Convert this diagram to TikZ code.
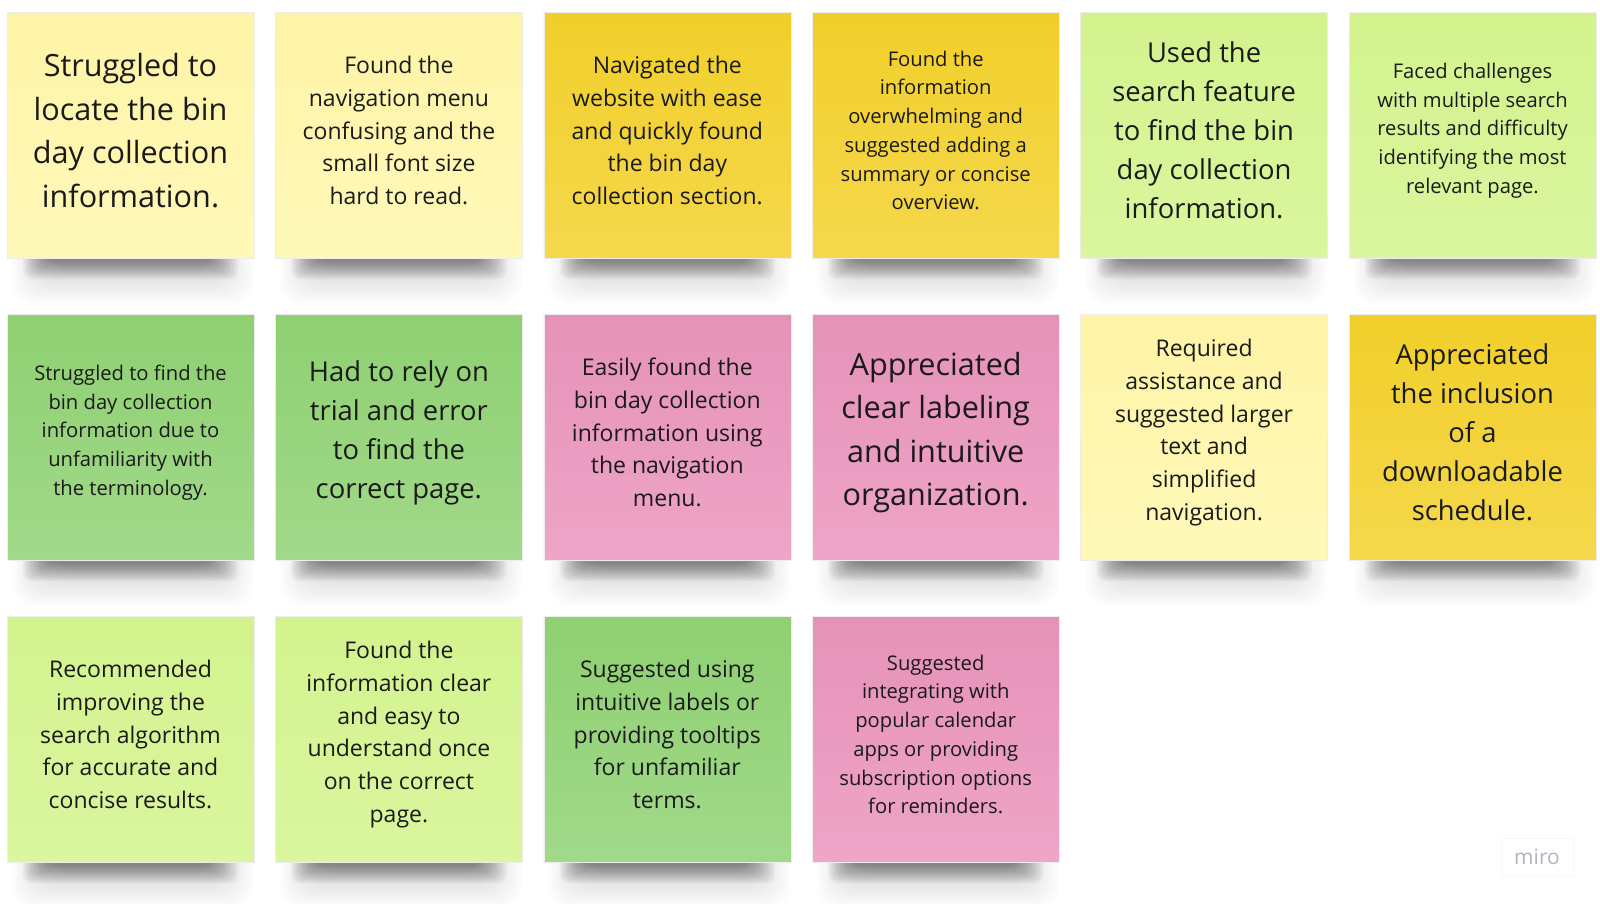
\documentclass[tikz,border=0pt]{standalone}
\usepackage{fontspec}
\setmainfont{Open Sans}
\usetikzlibrary{calc,backgrounds}

\pgfdeclarelayer{paper}
\pgfsetlayers{paper,background,main}

% sticky-note palette
\definecolor{lyTop}{HTML}{FEF4A6}\definecolor{lyBot}{HTML}{FFF9B9}
\definecolor{yeTop}{HTML}{F1CF2A}\definecolor{yeBot}{HTML}{F5D84C}
\definecolor{lgTop}{HTML}{D3F38E}\definecolor{lgBot}{HTML}{DAF69E}
\definecolor{grTop}{HTML}{8FD072}\definecolor{grBot}{HTML}{A1D98A}
\definecolor{pkTop}{HTML}{E692B8}\definecolor{pkBot}{HTML}{EEA5C7}
\definecolor{inkC}{HTML}{1A1A1A}
\definecolor{logoC}{HTML}{B2B2C2}

\tikzset{
  note/.style={draw=black!7, line width=0.6pt, minimum width=247pt,
    minimum height=246pt, inner sep=0pt},
  noteLY/.style={top color=lyTop, bottom color=lyBot},
  noteYE/.style={top color=yeTop, bottom color=yeBot},
  noteLG/.style={top color=lgTop, bottom color=lgBot},
  noteGR/.style={top color=grTop, bottom color=grBot},
  notePK/.style={top color=pkTop, bottom color=pkBot},
  notetext/.style={text=inkC, align=center, inner sep=0pt},
  fsA/.style={font=\fontsize{30.6}{43.6}\selectfont},
  fsB/.style={font=\fontsize{27.4}{39}\selectfont},
  fsC/.style={font=\fontsize{23}{32.7}\selectfont},
  fsD/.style={font=\fontsize{20.2}{28.7}\selectfont},
  halolayer/.style={fill=black, opacity=0.013, rounded corners=22pt},
  bandlayer/.style={fill=black, opacity=0.034, rounded corners=9pt},
}

% #1 name, #2 column, #3 row, #4 colour key, #5 font style, #6 text
\newcommand\stickynote[6]{%
  \node[note, note#4] (#1) at ({130.5+268.4*#2},{135+302*#3}) {};
  \node[notetext, #5] (#1t) at ([yshift=4.5pt]#1.center) {#6};
  \begin{scope}[on background layer]
    % soft wide halo
    \foreach \k in {0,...,13}{
      \path[halolayer]
        ($(#1.south west)+({5+3.2*\k},-30)$) rectangle
        ($(#1.south east)+({-1-3.2*\k},{46-3*\k})$);
    }
    % darker band right under the note
    \foreach \k in {0,...,11}{
      \path[bandlayer]
        ($(#1.south west)+({16+2*\k},-14)$) rectangle
        ($(#1.south east)+({-16-2.4*\k},{21-1.6*\k})$);
    }
  \end{scope}
}

\begin{document}
\begin{tikzpicture}[x=1pt,y=-1pt]
  \begin{pgfonlayer}{paper}
    \fill[white] (0,0) rectangle (1600,903);
  \end{pgfonlayer}
  \useasboundingbox (0,0) rectangle (1600,903);

  % first row
  \stickynote{a1}{0}{0}{LY}{fsA}{Struggled to\\locate the bin\\day collection\\information.}
  \stickynote{a2}{1}{0}{LY}{fsC}{Found the\\navigation menu\\confusing and the\\small font size\\hard to read.}
  \stickynote{a3}{2}{0}{YE}{fsC}{Navigated the\\website with ease\\and quickly found\\the bin day\\collection section.}
  \stickynote{a4}{3}{0}{YE}{fsD}{Found the\\information\\overwhelming and\\suggested adding a\\summary or concise\\overview.}
  \stickynote{a5}{4}{0}{LG}{fsB}{Used the\\search feature\\to find the bin\\day collection\\information.}
  \stickynote{a6}{5}{0}{LG}{fsD}{Faced challenges\\with multiple search\\results and difficulty\\identifying the most\\relevant page.}

  % second row
  \stickynote{b1}{0}{1}{GR}{fsD}{Struggled to find the\\bin day collection\\information due to\\unfamiliarity with\\the terminology.}
  \stickynote{b2}{1}{1}{GR}{fsB}{Had to rely on\\trial and error\\to find the\\correct page.}
  \stickynote{b3}{2}{1}{PK}{fsC}{Easily found the\\bin day collection\\information using\\the navigation\\menu.}
  \stickynote{b4}{3}{1}{PK}{fsA}{Appreciated\\clear labeling\\and intuitive\\organization.}
  \stickynote{b5}{4}{1}{LY}{fsC}{Required\\assistance and\\suggested larger\\text and\\simplified\\navigation.}
  \stickynote{b6}{5}{1}{YE}{fsB}{Appreciated\\the inclusion\\of a\\downloadable\\schedule.}

  % third row
  \stickynote{c1}{0}{2}{LG}{fsC}{Recommended\\improving the\\search algorithm\\for accurate and\\concise results.}
  \stickynote{c2}{1}{2}{LG}{fsC}{Found the\\information clear\\and easy to\\understand once\\on the correct\\page.}
  \stickynote{c3}{2}{2}{GR}{fsC}{Suggested using\\intuitive labels or\\providing tooltips\\for unfamiliar\\terms.}
  \stickynote{c4}{3}{2}{PK}{fsD}{Suggested\\integrating with\\popular calendar\\apps or providing\\subscription options\\for reminders.}

  % board watermark
  \node[draw=black!3, fill=white, minimum width=72pt, minimum height=38pt,
        text=logoC, font=\fontsize{21}{24}\selectfont] (logo) at (1537,857) {miro};
\end{tikzpicture}
\end{document}
